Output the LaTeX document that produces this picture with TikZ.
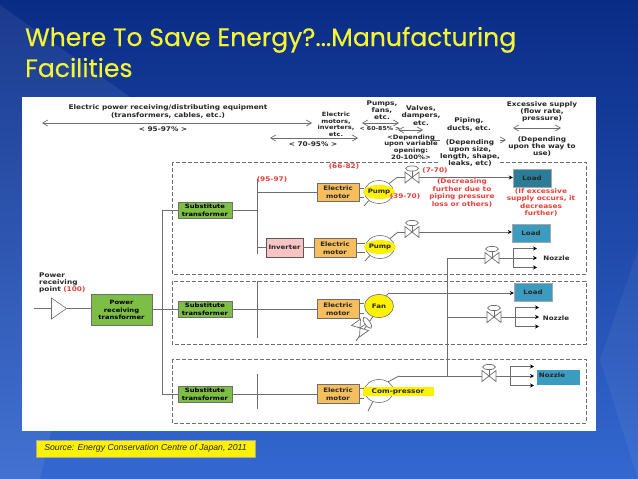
\documentclass[tikz,border=0pt]{standalone}
\usepackage{fontspec}
\setmainfont[FakeStretch=1.15]{DejaVu Sans}
\newfontfamily\titlefont[FakeBold=0.35]{Poppins}
\newfontfamily\srcfont{Liberation Sans}
\usetikzlibrary{shapes.geometric,arrows.meta,calc}
\definecolor{ink}{HTML}{262626}
\definecolor{wire}{HTML}{6E6E6E}
\definecolor{redt}{HTML}{E8403A}
\definecolor{grn}{HTML}{7DBE45}
\definecolor{org}{HTML}{F6BE5C}
\definecolor{pinkb}{HTML}{F8C4C4}
\definecolor{teal1}{HTML}{2B7C96}
\definecolor{teal2}{HTML}{3B9CC0}
\definecolor{slidea}{HTML}{0A2C86}
\definecolor{slideb}{HTML}{123F9F}
\definecolor{slidec}{HTML}{3468D0}
\definecolor{titley}{HTML}{F5F532}
\tikzset{
 x=1pt,y=-1pt,
 lbl/.style={font=\bfseries\fontsize{6.4}{7.2}\selectfont,text=ink,align=center,inner sep=0},
 rlbl/.style={font=\bfseries\fontsize{6.4}{7.4}\selectfont,text=redt,align=center,inner sep=0},
 wirel/.style={draw=wire,line width=0.8pt},
 dbl/.style={draw=wire,line width=0.7pt,{Straight Barb[length=5pt,width=6pt]}-{Straight Barb[length=5pt,width=6pt]}},
 sgl/.style={draw=wire,line width=0.7pt,-{Straight Barb[length=5pt,width=6pt]}},
 tip/.style={draw=wire,line width=0.8pt,-{Stealth[length=4pt,width=4pt,color=black]}},
 zone/.style={draw=wire,line width=0.6pt,dash pattern=on 4pt off 2pt},
 subst/.style={draw=wire,fill=grn,line width=0.5pt,minimum width=54pt,minimum height=16pt,inner sep=0,align=center,text=black,font=\bfseries\fontsize{5.9}{7.8}\selectfont},
 motor/.style={draw=wire,fill=org,line width=0.6pt,minimum width=42pt,minimum height=18.5pt,inner sep=0,align=center,text=ink,font=\bfseries\fontsize{6.1}{7.6}\selectfont},
 loadb/.style={fill=teal2,draw=wire!60,line width=0.4pt,minimum width=38pt,minimum height=18pt,inner sep=0,text=ink,font=\bfseries\fontsize{6.1}{7.6}\selectfont},
 roundm/.style={ellipse,draw=wire,line width=0.6pt,fill=white,minimum width=29pt,minimum height=23pt,inner sep=0},
 hl/.style={ellipse,fill=yellow,inner sep=0,minimum width=26pt,minimum height=14pt,text=ink,font=\bfseries\fontsize{6.1}{7.6}\selectfont},
 pics/valve/.style={code={
   \draw[draw=wire,line width=0.7pt,fill=white] (-7,-5.5)--(7,5.5)--(7,-5.5)--(-7,5.5)--cycle;
   \draw[draw=wire,line width=0.7pt] (0,0)--(0,-7);
   \draw[draw=wire,line width=0.7pt,fill=white] (0,-9) ellipse [x radius=6.5,y radius=2.6];
 }}
}
\begin{document}
\begin{tikzpicture}
\useasboundingbox (0,0) rectangle (638,479);
% slide
\shade[top color=slidea,middle color=slideb,bottom color=slidec] (0,0) rectangle (638,479);
\fill[white,opacity=0.07] (0,5) -- (130,97) -- (40,479) -- (0,479) -- cycle;
\fill[white,opacity=0.05] (638,250) -- (600,360) -- (638,479) -- cycle;
\node[font=\titlefont\fontsize{25.1}{31}\selectfont,text=titley,anchor=base west,inner sep=0] (t1) at (25,46) {Where To Save Energy?...Manufacturing};
\node[font=\titlefont\fontsize{25.1}{31}\selectfont,text=titley,anchor=base west,inner sep=0] (t2) at (25,77) {Facilities};
\fill[white] (22,97) rectangle (596,431);
% source
\node[fill=yellow,draw=gray!70,line width=0.5pt,minimum width=219pt,minimum height=17pt,inner sep=0,font=\srcfont\itshape\fontsize{8.7}{10}\selectfont,text=ink] (src) at (145.5,448.5) {Source: Energy Conservation Centre of Japan, 2011};
% zones
\draw[zone] (172,162) rectangle (586,274);
\draw[zone] (172,281) rectangle (586,344);
\draw[zone] (172,359) rectangle (586,423);
% header
\node[lbl] (h1) at (168,111.5) {Electric power receiving/distributing equipment\\(transformers, cables, etc.)};
\coordinate (a1) at (42,123); \coordinate (a2) at (312,123);
\draw[dbl] (a1)--(a2);
\node[lbl] (h1b) at (163,129) {< 95-97\% >};
\coordinate (b1) at (270,138); \coordinate (b2) at (358,138);
\draw[dbl] (b1)--(b2);
\node[lbl] (h2b) at (313,144.5) {< 70-95\% >};
\node[lbl,font=\bfseries\fontsize{5.8}{6.5}\selectfont] (h2) at (336,124.5) {Electric\\motors,\\inverters,\\etc.};
\node[lbl] (h3) at (382,110.5) {Pumps,\\fans,\\etc.};
\coordinate (c1) at (362,123); \coordinate (c2) at (399,123);
\draw[dbl] (c1)--(c2);
\node[lbl,font=\bfseries\fontsize{5.4}{6.5}\selectfont] (h3b) at (380,129) {< 60-85\% >};
\node[lbl] (h4) at (421,115.5) {Valves,\\dampers,\\etc.};
\coordinate (d1) at (398,130); \coordinate (d2) at (423,130);
\draw[dbl] (d1)--(d2);
\node[lbl,font=\bfseries\fontsize{6}{6.6}\selectfont] (h4b) at (411,147) {<Depending\\upon variable\\opening:\\20-100\%>};
\node[lbl] (h5) at (469,124.5) {Piping,\\ducts, etc.};
\coordinate (e1) at (430,140); \coordinate (e2) at (506,140);
\draw[sgl] (e1)--(e2);
\node[lbl,fill=white] (h5b) at (470,153) {(Depending\\upon size,\\length, shape,\\leaks, etc)};
\node[lbl] (h6) at (542,112) {Excessive supply\\(flow rate,\\pressure)};
\coordinate (f1) at (513,128); \coordinate (f2) at (561,128);
\draw[dbl] (f1)--(f2);
\node[lbl] (h6b) at (542,146.5) {(Depending\\upon the way to\\use)};
% power receiving
\node[lbl,align=left,anchor=west] (pr) at (39,283) {Power\\receiving\\point {\color{redt}(100)}};
\coordinate (p0) at (34,308.5);
\node[isosceles triangle,isosceles triangle apex angle=70,draw=wire,fill=white,line width=0.6pt,minimum height=15pt,minimum width=12pt,inner sep=0] (tri) at (57,308.5) {};
\node[subst,minimum width=61pt,minimum height=31pt,font=\bfseries\fontsize{5.9}{7.4}\selectfont] (prt) at (121.5,310) {Power\\receiving\\transformer};
\draw[wirel] (p0)--(tri.west);
\draw[wirel] (tri.east)--(prt.west|-tri.east);
% substitute transformers
\node[subst] (s1) at (205,210) {Substitute\\transformer};
\node[subst] (s2) at (205,309) {Substitute\\transformer};
\node[subst] (s3) at (205,394) {Substitute\\transformer};
\coordinate (bus1) at (162,210); \coordinate (bus3) at (162,394);
\draw[wirel] (s1.west)--(bus1)--(bus3)--(s3.west);
\draw[wirel] (prt.east|-s2.west)--(s2.west);
% split bars
\coordinate (j1t) at (257,179); \coordinate (j1b) at (257,254);
\coordinate (j2t) at (257,281); \coordinate (j2b) at (257,338);
\coordinate (j3t) at (257,374); \coordinate (j3b) at (257,409);
\draw[wirel] (j1t)--(j1b); \draw[wirel] (j2t)--(j2b); \draw[wirel] (j3t)--(j3b);
\draw[wirel] (s1.east)--(j1t|-s1.east);
% motors
\node[motor] (m1) at (338,192.5) {Electric\\motor};
\node[motor] (m2) at (335,248) {Electric\\motor};
\node[motor] (m3) at (338,309) {Electric\\motor};
\node[motor] (m4) at (338,394) {Electric\\motor};
\node[draw=wire!80!black,fill=pinkb,line width=0.6pt,minimum width=37pt,minimum height=19pt,inner sep=0,text=ink,font=\bfseries\fontsize{6.1}{7.6}\selectfont] (inv) at (284.5,247.5) {Inverter};
\draw[wirel] (j1t|-m1.west)--(m1.west);
\draw[wirel] (j1t|-inv.west)--(inv.west);
\draw[wirel] (inv.east)--(m2.west|-inv.east);
\draw[wirel] (s2.east)--(m3.west);
\draw[wirel] (s3.east)--(m4.west);
% rotating machines
\node[roundm] (pu1) at (379,192) {};
\node[roundm] (pu2) at (380,247) {};
\node[roundm,fill=yellow] (fan) at (379,306) {};
\node[roundm] (cp) at (379,391) {};
\node[hl] (pu1t) at (379,192) {Pump};
\node[hl] (pu2t) at (380,247) {Pump};
\node[text=ink,inner sep=0,font=\bfseries\fontsize{6.1}{7.6}\selectfont] (fant) at (379,306) {Fan};
\node[fill=yellow,text=ink,font=\bfseries\fontsize{6.4}{7.6}\selectfont,minimum width=71pt,minimum height=9pt,inner sep=0] (cpt) at (398,391.5) {Com-pressor};
% shaft stubs
\foreach \m/\p/\ya/\yb in {m1/pu1/188/197,m2/pu2/243/252,m3/fan/303/313,m4/cp/388/398}{
  \draw[wirel] (\m.east|-0,\ya)--(\p.west|-0,\ya);
  \draw[wirel] (\m.east|-0,\yb)--(\p.west|-0,\yb);
}
% outlet stubs (lower left)
\coordinate (o1) at (364,206); \coordinate (o2) at (365,261); \coordinate (o4) at (368,411);
\draw[wirel] (pu1.220)--(o1); \draw[wirel] (pu2.220)--(o2); \draw[wirel] (cp.240)--(o4);
% fan damper
\coordinate (o3) at (356,341);
\draw[wirel] (fan.240)--(o3);
\pic[rotate=-55] at (360,328) {valve};
% loads
\node[loadb,fill=teal1] (l1) at (532,178) {Load};
\node[loadb] (l2) at (531,233) {Load};
\node[loadb] (l3) at (533,292) {Load};
\node[fill=teal2,minimum width=43pt,minimum height=15pt,inner sep=0] (nz4) at (558.5,377.5) {};
\node[inner sep=0,text=ink,font=\bfseries\fontsize{6.1}{7.6}\selectfont] (nz4t) at (552,375) {Nozzle};
% main lines
\coordinate (q1) at (397,177.5); \coordinate (q2) at (398,232); \coordinate (q3) at (389,293); \coordinate (q4) at (399,376);
\draw[wirel] (pu1.40)--(q1);
\draw[tip] (q1)--(l1.west|-q1) ;
\draw[wirel] (pu2.40)--(q2);
\draw[tip] (q2)--(l2.west|-q2);
\draw[wirel] (fan.55)--(q3);
\draw[tip] (q3)--(l3.west|-q3);
\draw[wirel] (cp.45)--(q4);
% nozzle riser
\coordinate (r1) at (447,258); \coordinate (r2) at (447,317); \coordinate (r4) at (447,376);
\coordinate (n1) at (513,258); \coordinate (n2) at (515,317); \coordinate (n3) at (510,376);
\draw[wirel] (r1)--(r4);
\draw[wirel] (q4)--(n3);
\draw[wirel] (r1)--(n1);
\draw[wirel] (r2)--(n2);
\foreach \nx/\ny/\ex in {513/258/537,515/317/539,510/376/534}{
  \draw[wirel] (\nx,\ny-9.5)--(\nx,\ny+9.5);
  \draw[tip] (\nx,\ny-9.5)--(\ex,\ny-9.5);
  \draw[tip] (\nx,\ny)--(\ex,\ny);
  \draw[tip] (\nx,\ny+9.5)--(\ex,\ny+9.5);
}
\node[inner sep=0,text=ink,font=\bfseries\fontsize{6.1}{7.6}\selectfont] (nz1) at (556.5,258) {Nozzle};
\node[inner sep=0,text=ink,font=\bfseries\fontsize{6.1}{7.6}\selectfont] (nz2) at (556,318) {Nozzle};
% valves
\pic at (412,177.5) {valve};
\pic at (412,232) {valve};
\pic at (492,258) {valve};
\pic at (494,317) {valve};
\pic at (489,376) {valve};
% red text
\node[rlbl] (r95) at (272,179) {(95-97)};
\node[rlbl] (r66) at (344,166) {(66-82)};
\node[rlbl] (r7) at (435,170) {(7-70)};
\node[rlbl] (r39) at (405,196) {(39-70)};
\node[rlbl] (rd) at (462,193) {(Decreasing\\further due to\\piping pressure\\loss or others)};
\node[rlbl] (ri) at (541,202.5) {(If excessive\\supply occurs, it\\decreases\\further)};
\end{tikzpicture}
\end{document}
